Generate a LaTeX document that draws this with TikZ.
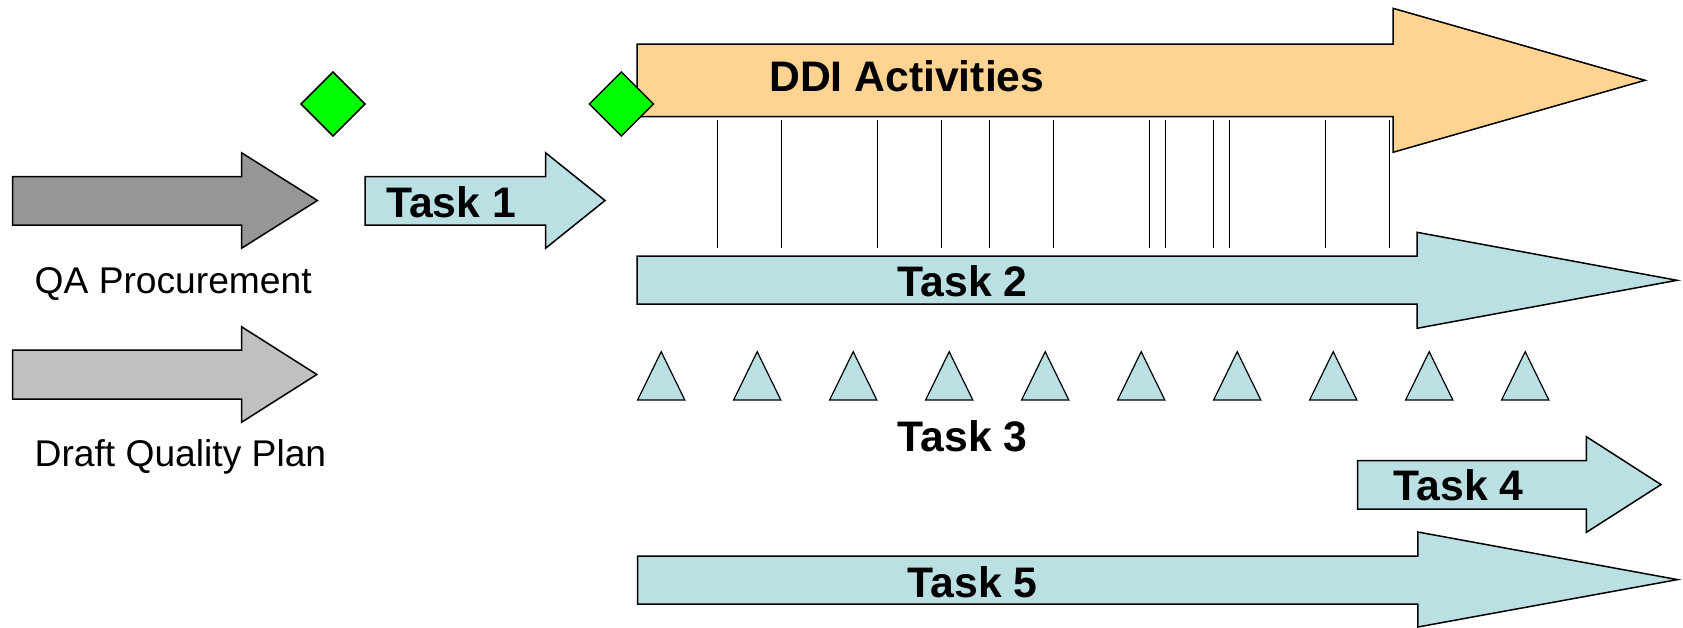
\documentclass[tikz,border=0pt]{standalone}
\usepackage{fontspec}
\setmainfont{Liberation Sans}
\definecolor{taskblue}{RGB}{187,224,227}
\definecolor{ddiorange}{RGB}{255,211,145}
\definecolor{darkgrey}{RGB}{150,150,150}
\definecolor{lightgrey}{RGB}{192,192,192}
\definecolor{milestone}{RGB}{0,255,0}
\tikzset{
  blockarrow/.style={draw=black, line width=1.5pt, line join=miter},
  tick/.style={draw=black, line width=1pt},
  marker/.style={draw=black, fill=taskblue, line width=1.2pt, line join=miter},
  gem/.style={draw=black, fill=milestone, line width=1.5pt, line join=miter},
  biglabel/.style={inner sep=0pt, anchor=base west, font=\fontsize{42.7}{46}\selectfont\bfseries},
  plainlabel/.style={inner sep=0pt, anchor=base west, font=\fontsize{37.2}{40}\selectfont},
}
\begin{document}
\begin{tikzpicture}[x=1pt,y=-1pt]
\useasboundingbox (0,0) rectangle (1683,627);

% input arrows on the left
\draw[blockarrow, fill=darkgrey] (12.5,176.7) -- (241.5,176.7) -- (241.5,152.7) -- (317.4,200.5)
  -- (241.5,248.3) -- (241.5,225) -- (12.5,225) -- cycle;
\draw[blockarrow, fill=lightgrey] (12.5,350) -- (241.5,350) -- (241.5,326.7) -- (316.8,374.5)
  -- (241.5,422.3) -- (241.5,399) -- (12.5,399) -- cycle;
\node[plainlabel] (qa) at (34.5,293) {QA Procurement};
\node[plainlabel] (dqp) at (34.5,466.7) {Draft Quality Plan};

% Task 1
\draw[blockarrow, fill=taskblue] (365,176.7) -- (545.5,176.7) -- (545.5,152.7) -- (605,200.5)
  -- (545.5,248.3) -- (545.5,225) -- (365,225) -- cycle;
\node[biglabel] (t1) at (386,217) {Task 1};

% DDI activities
\draw[blockarrow, fill=ddiorange] (637,44) -- (1393,44) -- (1393,8.3) -- (1645,80.3)
  -- (1393,152.3) -- (1393,116.5) -- (637,116.5) -- cycle;
\node[biglabel] (ddi) at (769,91.7) {DDI Activities};

% milestones
\draw[gem] (333,72) -- (365,104) -- (333,136) -- (301,104) -- cycle;
\draw[gem] (621.4,72) -- (653.4,104) -- (621.4,136) -- (589.4,104) -- cycle;

% ticks between DDI and Task 2
\foreach \x in {717.4,781.6,877.6,941.2,989.5,1053,1149.7,1165.6,1213.3,1229.1,1325.8,1389.4}
  \draw[tick] (\x,120) -- (\x,248.3);

% Task 2
\draw[blockarrow, fill=taskblue] (637,256) -- (1417,256) -- (1417,232.3) -- (1677,280.3)
  -- (1417,328.3) -- (1417,304) -- (637,304) -- cycle;
\node[biglabel] (t2) at (897.5,296) {Task 2};

% Task 3 markers
\foreach \i in {0,...,9}
  \draw[marker] ({661.2+96*\i},351.7) -- ({661.2+96*\i+23.6},400) -- ({661.2+96*\i-23.6},400) -- cycle;
\node[biglabel] (t3) at (897.5,451.7) {Task 3};

% Task 4
\draw[blockarrow, fill=taskblue] (1357.7,460.7) -- (1586.4,460.7) -- (1586.4,436.7) -- (1661,484.6)
  -- (1586.4,532.3) -- (1586.4,509) -- (1357.7,509) -- cycle;
\node[biglabel] (t4) at (1393.5,500) {Task 4};

% Task 5
\draw[blockarrow, fill=taskblue] (637.5,556) -- (1417.8,556) -- (1417.8,532) -- (1677.5,579.6)
  -- (1417.8,627) -- (1417.8,604) -- (637.5,604) -- cycle;
\node[biglabel] (t5) at (907.5,597.7) {Task 5};
\end{tikzpicture}
\end{document}
